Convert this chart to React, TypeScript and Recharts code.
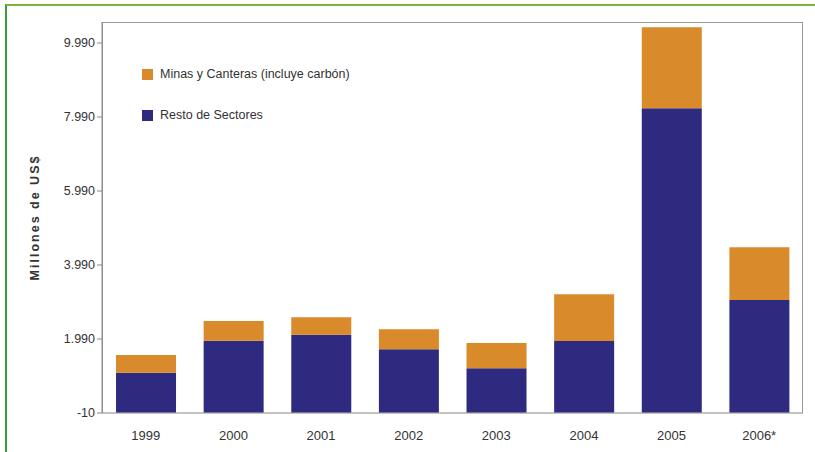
import React from 'react';
import { BarChart, Bar, XAxis, YAxis, Legend } from 'recharts';

// Inversión extranjera, millones de US$
const years = ['1999', '2000', '2001', '2002', '2003', '2004', '2005', '2006*'];
const minas = [478, 531, 469, 540, 685, 1261, 2190, 1424];
const resto = [1080, 1945, 2107, 1711, 1197, 1936, 8224, 3044];
const yTicks = [-10, 1990, 3990, 5990, 7990, 9990];

const ORANGE = '#D98A2B';
const NAVY = '#2E2A80';

const data = years.map((year, i) => ({ year, resto: resto[i], minas: minas[i] }));

const fmt = (v: number) => {
  const s = Math.abs(v).toString().replace(/\B(?=(\d{3})+(?!\d))/g, '.');
  return v < 0 ? '-' + s : s;
};

const LegendBox = () => (
  <div style={{ fontFamily: 'Liberation Sans, Arial, sans-serif', fontSize: 12.5, color: '#333' }}>
    {[
      { label: 'Minas y Canteras (incluye carbón)', color: ORANGE },
      { label: 'Resto de Sectores', color: NAVY },
    ].map((it) => (
      <div key={it.label} style={{ display: 'flex', alignItems: 'center', height: 20, marginBottom: 21 }}>
        <span style={{ width: 11, height: 11, background: it.color, marginRight: 7, display: 'inline-block' }} />
        <span>{it.label}</span>
      </div>
    ))}
  </div>
);

export default function App() {
  return (
    <div style={{ position: 'absolute', left: 0, top: 0, width: 815, height: 452, background: '#fff', overflow: 'hidden' }}>
      {/* green frame of the original page */}
      <div style={{ position: 'absolute', left: 5, top: 4, width: 820, height: 460, borderTop: '2px solid #7DB33A', borderLeft: '2px solid #3E9A3A' }} />
      {/* plot frame */}
      <div style={{ position: 'absolute', left: 102, top: 22, width: 701, height: 391, border: '1px solid #999', borderBottom: 'none', boxSizing: 'border-box' }} />
      <BarChart
        width={815}
        height={452}
        data={data}
        margin={{ top: 22, right: 12, left: 42, bottom: 9 }}
        barCategoryGap="16%"
      >
        <XAxis
          dataKey="year"
          height={30}
          tickLine={false}
          axisLine={{ stroke: '#888' }}
          tick={{ fontSize: 13, fill: '#333', fontFamily: 'Liberation Sans, Arial, sans-serif' }}
          tickMargin={12}
        />
        <YAxis
          width={60}
          type="number"
          domain={[-10, 10558]}
          ticks={yTicks}
          tickFormatter={fmt}
          allowDataOverflow
          axisLine={{ stroke: '#888' }}
          tickLine={{ stroke: '#888' }}
          tickSize={5}
          tick={{ fontSize: 12.5, fill: '#333', fontFamily: 'Liberation Sans, Arial, sans-serif' }}
          label={{
            value: 'Millones de US$',
            angle: -90,
            position: 'insideLeft',
            offset: -7,
            style: { textAnchor: 'middle', fontWeight: 'bold', fontSize: 12.5, letterSpacing: 2, fill: '#333', fontFamily: 'Liberation Sans, Arial, sans-serif' },
          }}
        />
        <Legend
          layout="vertical"
          verticalAlign="middle"
          align="center"
          content={<LegendBox />}
          wrapperStyle={{ left: 142, top: 64, width: 260 }}
        />
        <Bar dataKey="resto" stackId="a" fill={NAVY} name="Resto de Sectores" isAnimationActive={false} />
        <Bar dataKey="minas" stackId="a" fill={ORANGE} name="Minas y Canteras (incluye carbón)" isAnimationActive={false} />
      </BarChart>
    </div>
  );
}
